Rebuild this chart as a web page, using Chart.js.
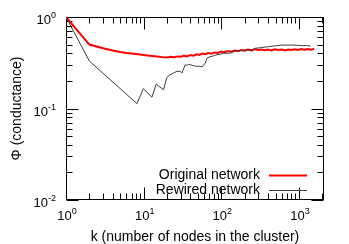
<!DOCTYPE html>
<html>
<head>
<meta charset="utf-8">
<script src="https://cdn.jsdelivr.net/npm/chart.js@4"></script>
<style>
  html, body { margin: 0; padding: 0; background: #fff; }
  canvas { display: block; }
</style>
</head>
<body>
<canvas id="chart" width="349" height="244"></canvas>
<script>
// Data
const originalK = [1, 2, 3, 4, 5, 6, 8, 10, 12, 15, 18, 20, 22, 25, 27, 30, 33, 36, 40, 44, 48, 52, 57, 62, 68, 75, 82, 90,
    100, 110, 120, 135, 150, 165, 180, 200, 220, 245, 270, 300, 330, 365, 400, 440, 490, 540, 600, 660, 730, 800, 880,
    970, 1070, 1180, 1300, 1430, 1570];
const originalPhi = [1.0, 0.50, 0.455, 0.43, 0.415, 0.405, 0.393, 0.385, 0.378, 0.37, 0.362, 0.36, 0.368, 0.363, 0.371,
    0.367, 0.378, 0.371, 0.384, 0.377, 0.391, 0.385, 0.399, 0.392, 0.405, 0.398, 0.41, 0.404, 0.418, 0.41, 0.425, 0.418,
    0.43, 0.424, 0.435, 0.428, 0.44, 0.432, 0.445, 0.436, 0.442, 0.434, 0.44, 0.432, 0.443, 0.436, 0.441, 0.432, 0.44,
    0.435, 0.445, 0.437, 0.446, 0.438, 0.447, 0.44, 0.45];

const rewiredK = [1, 2, 8.2, 9.9, 12.8, 14.5, 18, 19.9, 21.5, 24.2, 26.8, 29.6, 31.1, 34.3, 36, 38, 39.8, 44, 48.6, 52,
    56.4, 62.2, 65.4, 70, 75.9, 82, 88, 97, 107, 120, 131, 151, 175, 204, 240, 274, 320, 408, 500, 605, 700, 818, 950,
    1100, 1250, 1410];
const rewiredPhi = [1.0, 0.33, 0.113, 0.165, 0.133, 0.185, 0.16, 0.219, 0.231, 0.244, 0.255, 0.255, 0.244, 0.301, 0.296,
    0.304, 0.301, 0.293, 0.289, 0.29, 0.284, 0.314, 0.356, 0.365, 0.372, 0.38, 0.387, 0.392, 0.404, 0.4, 0.404, 0.425,
    0.43, 0.436, 0.43, 0.455, 0.462, 0.474, 0.485, 0.494, 0.492, 0.494, 0.49, 0.486, 0.487, 0.482];

const xMajorTicks = [1, 10, 100, 1000];
const xTickExps = ['0', '1', '2', '3'];
const yMajorTicks = [0.01, 0.1, 1];
const yTickExps = ['-2', '-1', '0'];

const seriesLabels = ['Original network', 'Rewired network'];
const xTitle = 'k (number of nodes in the cluster)';
const yTitle = 'Φ (conductance)';

const FONT = "'Liberation Sans', Arial, sans-serif";
const RED = '#ff0000';
const GREY = '#3c3c3c';

const toPoints = (ks, vals) => ks.map((k, i) => ({ x: k, y: vals[i] }));

/**
 * Minor ticks 2..9 of every decade inside [min, max]
 */
const minorTicks = (min, max) => {
    const out = [];
    for (let d = Math.floor(Math.log10(min)); d <= Math.ceil(Math.log10(max)); d++) {
        for (let m = 2; m <= 9; m++) {
            const v = m * Math.pow(10, d);
            if (v > min && v < max) out.push(v);
        }
    }
    return out;
};

/**
 * Draw "10" with a raised exponent
 */
const drawPower = (ctx, exp, x, y, align) => {
    ctx.font = `13px ${FONT}`;
    const wb = ctx.measureText('10').width;
    ctx.font = `9px ${FONT}`;
    const we = ctx.measureText(exp).width;
    const total = wb + we;
    const left = align === 'center' ? x - total / 2 : x - total;
    ctx.textAlign = 'left';
    ctx.textBaseline = 'alphabetic';
    ctx.font = `13px ${FONT}`;
    ctx.fillText('10', left, y);
    ctx.font = `9px ${FONT}`;
    ctx.fillText(exp, left + wb, y - 6);
};

// Frame and gnuplot style ticks on all four sides
const framePlugin = {
    id: 'frame',
    beforeDatasetsDraw(chart) {
        const { ctx, chartArea: a, scales: { x, y } } = chart;
        const L = Math.round(a.left) + 0.5, R = Math.round(a.right) - 0.5;
        const T = Math.round(a.top) + 0.5, B = Math.round(a.bottom) - 0.5;
        ctx.save();
        ctx.strokeStyle = '#000';
        ctx.lineWidth = 1;
        ctx.beginPath();
        const xTick = (v, len) => {
            const px = Math.round(x.getPixelForValue(v)) + 0.5;
            ctx.moveTo(px, B); ctx.lineTo(px, B - len);
            ctx.moveTo(px, T); ctx.lineTo(px, T + len);
        };
        const yTick = (v, len) => {
            const py = Math.round(y.getPixelForValue(v)) + 0.5;
            ctx.moveTo(L, py); ctx.lineTo(L + len, py);
            ctx.moveTo(R, py); ctx.lineTo(R - len, py);
        };
        xMajorTicks.forEach(v => xTick(v, 12));
        minorTicks(x.min, x.max).forEach(v => xTick(v, 6));
        yMajorTicks.forEach(v => yTick(v, 12));
        minorTicks(y.min, y.max).forEach(v => yTick(v, 6));
        ctx.stroke();
        ctx.strokeRect(L, T, R - L, B - T);
        ctx.restore();
    },
    afterDraw(chart) {
        const { ctx, chartArea: a, scales: { x, y } } = chart;
        ctx.save();
        ctx.fillStyle = '#000';

        // Tick labels
        xMajorTicks.forEach((v, i) => drawPower(ctx, xTickExps[i], x.getPixelForValue(v) + 1, 220, 'center'));
        yMajorTicks.forEach((v, i) => drawPower(ctx, yTickExps[i], 56, y.getPixelForValue(v) + 7, 'right'));

        // Axis titles
        ctx.font = `14px ${FONT}`;
        ctx.textAlign = 'center';
        ctx.textBaseline = 'middle';
        ctx.fillText(xTitle, (a.left + a.right) / 2, 237);
        ctx.save();
        ctx.translate(17, (a.top + a.bottom) / 2);
        ctx.rotate(-Math.PI / 2);
        ctx.fillText(yTitle, 0, 0);
        ctx.restore();

        // Legend
        const rows = [
            { label: seriesLabels[0], color: RED, width: 2, y: 175 },
            { label: seriesLabels[1], color: GREY, width: 1, y: 190 }
        ];
        rows.forEach(r => {
            ctx.font = `14px ${FONT}`;
            ctx.textAlign = 'right';
            ctx.textBaseline = 'middle';
            ctx.fillStyle = '#000';
            ctx.fillText(r.label, 260, r.y);
            ctx.strokeStyle = r.color;
            ctx.lineWidth = r.width;
            ctx.beginPath();
            ctx.moveTo(269, r.y + 0.5);
            ctx.lineTo(307, r.y + 0.5);
            ctx.stroke();
        });
        ctx.restore();
    }
};

new Chart(document.getElementById('chart'), {
    type: 'scatter',
    data: {
        datasets: [{
            label: seriesLabels[1],
            data: toPoints(rewiredK, rewiredPhi),
            showLine: true,
            borderColor: GREY,
            borderWidth: 1,
            pointRadius: 0,
            tension: 0
        }, {
            label: seriesLabels[0],
            data: toPoints(originalK, originalPhi),
            showLine: true,
            borderColor: RED,
            borderWidth: 2,
            pointRadius: 0,
            tension: 0
        }]
    },
    options: {
        responsive: false,
        animation: false,
        devicePixelRatio: 1,
        layout: { padding: { left: 66, right: 25, top: 17, bottom: 44 } },
        plugins: {
            legend: { display: false },
            tooltip: { enabled: false }
        },
        scales: {
            x: { type: 'logarithmic', min: 1, max: 2100, display: false },
            y: { type: 'logarithmic', min: 0.01, max: 1, display: false }
        }
    },
    plugins: [framePlugin]
});
</script>
</body>
</html>
